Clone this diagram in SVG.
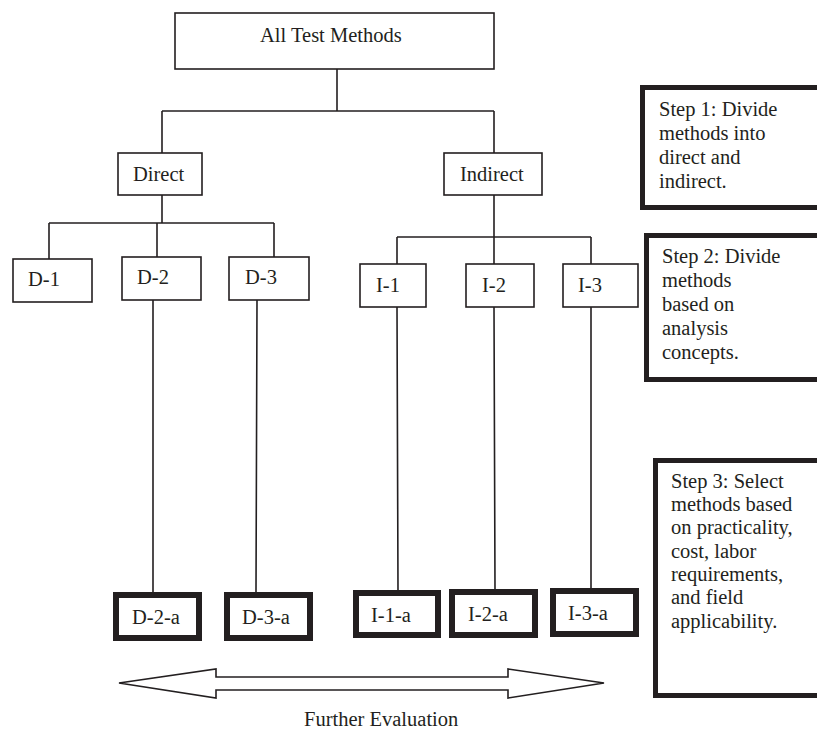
<svg xmlns="http://www.w3.org/2000/svg" width="817" height="732" viewBox="0 0 817 732">
<style>
  text { font-family: "Liberation Serif", "Times New Roman", serif; font-size: 20.5px; fill: #231f20; }
  .thin { fill: #fff; stroke: #231f20; stroke-width: 1.6; }
  .thick { fill: #fff; stroke: #231f20; stroke-width: 6; }
  .step { fill: #fff; stroke: #231f20; stroke-width: 5; }
  .conn { fill: none; stroke: #231f20; stroke-width: 1.6; }
</style>
<rect width="817" height="732" fill="#fff"/>
<g id="connectors">
  <path class="conn" d="M337,69 V111 M162,111 H494 M162,111 V153 M494,111 V153"/>
  <path class="conn" d="M162,195 V223 M49,223 H274 M49,223 V259 M157,223 V257 M274,223 V257"/>
  <path class="conn" d="M494,195 V237 M397,237 H591 M397,237 V264 M494,237 V264 M591,237 V264"/>
  <path class="conn" d="M153,300 V592 M257,300 L256,592 M397,307 L398,590 M494,307 L495,589 M591,307 V588"/>
</g>
<g id="all-test-methods"><rect class="thin" x="175" y="13" width="319" height="56"/><text x="260" y="42">All Test Methods</text></g>
<g id="direct"><rect class="thin" x="118" y="153" width="84" height="42"/><text x="133" y="181">Direct</text></g>
<g id="indirect"><rect class="thin" x="444" y="153" width="98" height="42"/><text x="460" y="181">Indirect</text></g>
<g id="d1"><rect class="thin" x="13" y="259" width="79" height="43"/><text x="28" y="286">D-1</text></g>
<g id="d2"><rect class="thin" x="122" y="257" width="79" height="43"/><text x="137" y="284">D-2</text></g>
<g id="d3"><rect class="thin" x="229" y="257" width="80" height="43"/><text x="245" y="284">D-3</text></g>
<g id="i1"><rect class="thin" x="360" y="264" width="66" height="43"/><text x="376" y="292">I-1</text></g>
<g id="i2"><rect class="thin" x="466" y="264" width="68" height="43"/><text x="482" y="292">I-2</text></g>
<g id="i3"><rect class="thin" x="563" y="264" width="75" height="43"/><text x="578" y="292">I-3</text></g>
<g id="d2a"><rect class="thick" x="116" y="595" width="83" height="43"/><text x="132" y="624">D-2-a</text></g>
<g id="d3a"><rect class="thick" x="227" y="595" width="83" height="43"/><text x="242" y="624">D-3-a</text></g>
<g id="i1a"><rect class="thick" x="356" y="593" width="82" height="42"/><text x="371" y="622">I-1-a</text></g>
<g id="i2a"><rect class="thick" x="452" y="592" width="83" height="43"/><text x="468" y="621">I-2-a</text></g>
<g id="i3a"><rect class="thick" x="553" y="591" width="83" height="43"/><text x="568" y="620">I-3-a</text></g>
<g id="step1"><rect class="step" x="642.5" y="87.5" width="185" height="120"/>
  <text x="659"><tspan x="659" y="116">Step 1: Divide</tspan><tspan x="659" y="140">methods into</tspan><tspan x="659" y="164">direct and</tspan><tspan x="659" y="188">indirect.</tspan></text></g>
<g id="step2"><rect class="step" x="646.5" y="235.5" width="180" height="144"/>
  <text x="662"><tspan x="662" y="263">Step 2: Divide</tspan><tspan x="662" y="287">methods</tspan><tspan x="662" y="311">based on</tspan><tspan x="662" y="335">analysis</tspan><tspan x="662" y="359">concepts.</tspan></text></g>
<g id="step3"><rect class="step" x="655.5" y="460.5" width="170" height="235"/>
  <text x="671"><tspan x="671" y="488">Step 3: Select</tspan><tspan x="671" y="511">methods based</tspan><tspan x="671" y="534">on practicality,</tspan><tspan x="671" y="558">cost, labor</tspan><tspan x="671" y="581">requirements,</tspan><tspan x="671" y="604">and field</tspan><tspan x="671" y="628">applicability.</tspan></text></g>
<g id="further-evaluation">
  <polygon class="conn" style="fill:#fff" points="119,683 216,669 216,677 508,677 508,669 604,683 508,698 508,690 216,690 216,698"/>
  <text x="304" y="726">Further Evaluation</text>
</g>
</svg>
